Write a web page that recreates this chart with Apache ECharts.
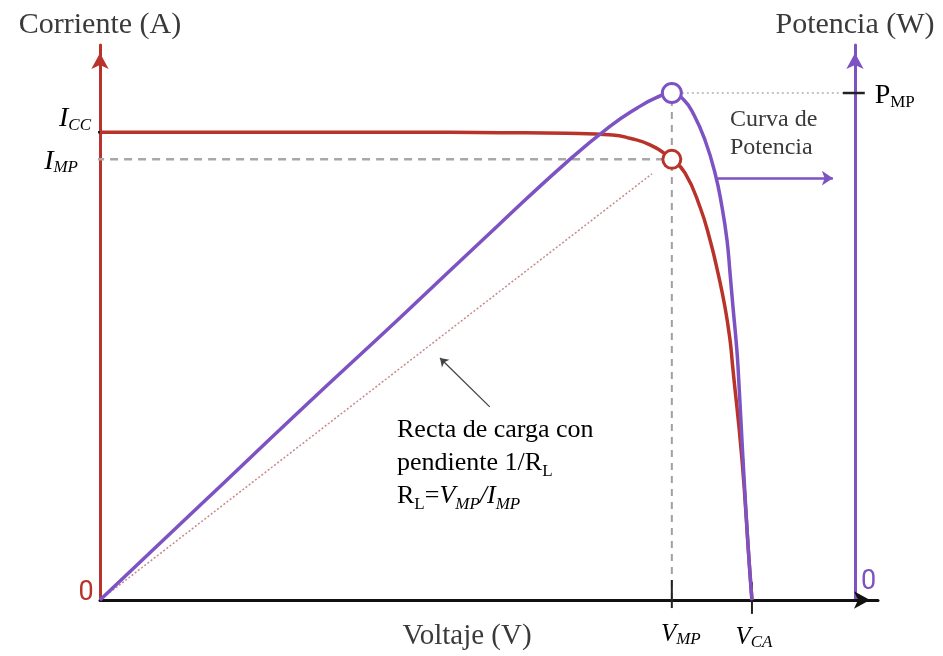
<!DOCTYPE html>
<html>
<head>
<meta charset="utf-8">
<script src="https://cdn.jsdelivr.net/npm/echarts@6/dist/echarts.min.js"></script>
<style>
  html, body { margin: 0; padding: 0; background: #fff; }
  #main { width: 943px; height: 656px; }
</style>
</head>
<body>
<div id="main"></div>
<script>
// curva I-V (tension en unidades relativas 0..100)
const currentV = [0, 20.0, 38.6, 51.4, 60.0, 65.9, 68.1, 70.7, 73.5, 75.19, 77.12, 78.41, 79.43, 80.33, 80.98, 81.30, 82.52, 83.42, 83.8];
const currentI = [84.3, 84.3, 84.3, 84.2, 84.1, 83.8, 83.2, 82.0, 79.4, 76.94, 70.81, 64.86, 58.92, 52.79, 46.85, 42.34, 25.23, 7.21, 0];

// curva de potencia
const powerV = [0, 12.9, 25.7, 38.6, 51.4, 60.0, 65.5, 69.0, 71.5, 73.5, 75.06, 76.35, 77.76, 79.05, 79.95, 80.59, 80.98, 81.36, 81.75, 82.01, 82.65, 83.42, 83.8];
const powerP = [0, 17.1, 34.1, 50.9, 67.8, 78.9, 85.3, 88.6, 90.5, 91.35, 90.09, 87.39, 82.88, 76.94, 70.81, 64.86, 58.92, 52.79, 46.85, 41.98, 25.23, 7.21, 0];

// puntos notables
const ICC = 84.3;
const IMP = 79.4;
const VMP = 73.5;
const VCA = 83.8;
const PMP = 91.35;
const loadEnd = [70.95, 76.8];   // fin de la recta de carga
const rightAxisV = 97.0;         // donde cae el eje de potencia

const RED = '#b8342a';
const PURPLE = '#7d52c2';
const TXT = '#3a3a3a';
const SERIF = '"Liberation Serif", "Times New Roman", serif';

const chart = echarts.init(document.getElementById('main'));

function zip(xs, ys) {
  return xs.map((x, i) => [x, ys[i]]);
}

function guide(data, color, width, type, yIdx) {
  return {
    type: 'line', data: data, yAxisIndex: yIdx || 0, showSymbol: false, clip: false,
    silent: true, lineStyle: { color: color, width: width, type: type }, z: 2
  };
}

const arrowLine = {
  symbol: ['none', 'arrow'], symbolSize: [13, 16], symbolOffset: [0, -8]
};

chart.setOption({
  animation: false,
  grid: { left: 100, right: 65, top: 45, bottom: 56 },
  xAxis: {
    type: 'value', min: 0, max: 100,
    axisLine: Object.assign({ lineStyle: { color: '#111', width: 3 } }, arrowLine),
    axisTick: { show: false }, axisLabel: { show: false }, splitLine: { show: false },
    name: 'Voltaje (V)', nameLocation: 'middle', nameGap: 22,
    nameTextStyle: { fontFamily: SERIF, fontSize: 29, color: TXT, padding: [0, 44, 0, 0] }
  },
  yAxis: [
    {
      type: 'value', min: 0, max: 100, position: 'left',
      axisLine: Object.assign({ lineStyle: { color: RED, width: 3 } }, arrowLine),
      axisTick: { show: false }, axisLabel: { show: false }, splitLine: { show: false },
      name: 'Corriente (A)', nameGap: 5,
      nameTextStyle: { fontFamily: SERIF, fontSize: 30, color: TXT }
    },
    {
      type: 'value', min: 0, max: 100, position: 'right', offset: -23,
      axisLine: Object.assign({ lineStyle: { color: PURPLE, width: 3 } }, arrowLine),
      axisTick: { show: false }, axisLabel: { show: false }, splitLine: { show: false },
      name: 'Potencia (W)', nameGap: 5,
      nameTextStyle: { fontFamily: SERIF, fontSize: 30, color: TXT }
    }
  ],
  series: [
    // lineas guia
    guide([[-2.3, IMP], [VMP, IMP]], '#a8a8a8', 2.5, [8, 6]),
    guide([[VMP, 0], [VMP, PMP]], '#a0a0a0', 2, [7, 6]),
    guide([[VMP, PMP], [rightAxisV, PMP]], '#b0b0b0', 1.5, [2, 3], 1),
    // recta de carga
    guide([[0, 0], loadEnd], '#c8898a', 1.5, [2, 2]),
    {
      type: 'line', name: 'Corriente', data: zip(currentV, currentI), yAxisIndex: 0,
      smooth: 0.5, showSymbol: false,
      lineStyle: { color: RED, width: 3.5 }, z: 4
    },
    {
      type: 'line', name: 'Potencia', data: zip(powerV, powerP), yAxisIndex: 1,
      smooth: 0.5, showSymbol: false,
      lineStyle: { color: PURPLE, width: 3.5 }, z: 5
    },
    // marcas sobre los ejes
    guide([[-1.54, ICC], [3.2, ICC]], '#222', 2.5, 'solid'),
    guide([[VMP, 3.6], [VMP, -1.45]], '#222', 2, 'solid'),
    guide([[VCA, 3.2], [VCA, -2.5]], '#222', 2, 'solid'),
    guide([[95.5, PMP], [98.3, PMP]], '#222', 2.5, 'solid', 1),
    // puntos de maxima potencia
    {
      type: 'scatter', data: [[VMP, IMP]], yAxisIndex: 0, symbol: 'circle', symbolSize: 18,
      itemStyle: { color: '#fff', borderColor: RED, borderWidth: 3, opacity: 1 }, z: 10
    },
    {
      type: 'scatter', data: [[VMP, PMP]], yAxisIndex: 1, symbol: 'circle', symbolSize: 19,
      itemStyle: { color: '#fff', borderColor: PURPLE, borderWidth: 3, opacity: 1 }, z: 10
    },
    // flechas de anotacion
    {
      type: 'lines', coordinateSystem: 'cartesian2d', symbol: ['none', 'arrow'], symbolSize: 11,
      lineStyle: { color: PURPLE, width: 2.5, opacity: 1, curveness: 0 },
      data: [{ coords: [[79.4, 76.0], [94.2, 76.0]] }], z: 6
    },
    {
      type: 'lines', coordinateSystem: 'cartesian2d', symbol: ['none', 'arrow'], symbolSize: 8,
      lineStyle: { color: '#444', width: 1.3, opacity: 1, curveness: 0 },
      data: [{ coords: [[50.1, 34.8], [43.7, 43.6]] }], z: 6
    }
  ]
});

// textos con subindices colocados sobre los puntos notables
function px(x, y) {
  return chart.convertToPixel({ gridIndex: 0 }, [x, y]);
}

const sub = {
  m: { fontFamily: SERIF, fontSize: 28, fontStyle: 'italic', color: TXT, lineHeight: 30 },
  s: { fontFamily: SERIF, fontSize: 17, fontStyle: 'italic', color: TXT, lineHeight: 16, verticalAlign: 'bottom' },
  r: { fontFamily: SERIF, fontSize: 26, color: TXT, lineHeight: 33 },
  ri: { fontFamily: SERIF, fontSize: 26, fontStyle: 'italic', color: TXT, lineHeight: 33 },
  rs: { fontFamily: SERIF, fontSize: 17, color: TXT, lineHeight: 18, verticalAlign: 'bottom' },
  ris: { fontFamily: SERIF, fontSize: 17, fontStyle: 'italic', color: TXT, lineHeight: 18, verticalAlign: 'bottom' },
  p: { fontFamily: SERIF, fontSize: 28, color: TXT, lineHeight: 30 },
  ps: { fontFamily: SERIF, fontSize: 17, color: TXT, lineHeight: 16, verticalAlign: 'bottom' },
  v: { fontFamily: SERIF, fontSize: 25, fontStyle: 'italic', color: TXT, lineHeight: 28 }
};

function txt(x, y, text, align, extra) {
  return {
    type: 'text', x: x, y: y, z: 20,
    style: Object.assign({ text: text, rich: sub, align: align, verticalAlign: 'middle' }, extra || {})
  };
}

const o = px(0, 0);
const pIcc = px(0, ICC);
const pImp = px(0, IMP);
const pVmp = px(VMP, 0);
const pVca = px(VCA, 0);
const pPmp = px(rightAxisV, PMP);

chart.setOption({
  graphic: [
    txt(pIcc[0] - 9, pIcc[1] - 13, '{m|I}{s|CC}', 'right'),
    txt(pImp[0] - 22, pImp[1] + 2, '{m|I}{s|MP}', 'right'),
    txt(pVmp[0] + 9, pVmp[1] + 34, '{v|V}{s|MP}', 'center'),
    txt(pVca[0] + 2, pVca[1] + 37, '{v|V}{s|CA}', 'center'),
    txt(pPmp[0] + 20, pPmp[1] + 3, '{p|P}{ps|MP}', 'left'),
    txt(o[0] - 14, o[1] - 7, '0', 'center',
      { fill: RED, fontFamily: 'Roboto', fontSize: 27 }),
    txt(pPmp[0] + 14, o[1] - 18, '0', 'center',
      { fill: PURPLE, fontFamily: 'Roboto', fontSize: 27 }),
    {
      type: 'text', left: 730, top: 106, z: 20,
      style: { text: 'Curva de\nPotencia', fontFamily: SERIF, fontSize: 24, lineHeight: 28, fill: TXT }
    },
    {
      type: 'text', x: 397, y: 414, z: 20,
      style: {
        text: '{r|Recta de carga con}\n{r|pendiente 1/R}{rs|L}\n{r|R}{rs|L}{r|=}{ri|V}{ris|MP}{ri|/I}{ris|MP}',
        rich: sub, align: 'left', verticalAlign: 'top'
      }
    }
  ]
});
</script>
</body>
</html>
